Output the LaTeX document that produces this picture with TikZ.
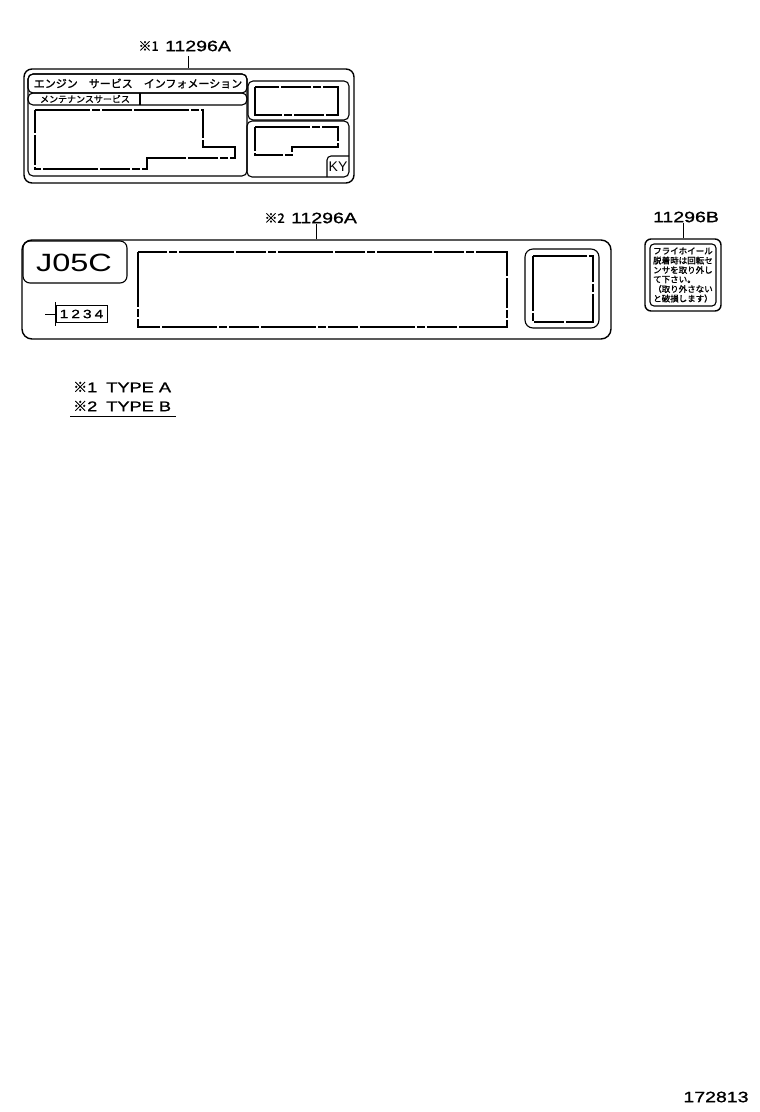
\documentclass[tikz,border=0pt]{standalone}
\usepackage{fontspec}
\setmainfont{Liberation Sans}
\newfontfamily\widefont[FakeStretch=1.3, FakeBold=1.2]{Liberation Sans}
\newfontfamily\thinfont[FakeStretch=1.3]{Liberation Sans}
\newfontfamily\jpfont[FakeBold=1.3]{Noto Sans CJK JP}
\usetikzlibrary{positioning}
\tikzset{
    every node/.style={inner sep=0pt},
    panel/.style={draw, line width=1.4pt, rounded corners=8pt},
    subpanel/.style={draw, line width=1.1pt, rounded corners=5pt},
    dashbox/.style={draw, line width=1.2pt, dash pattern=on 55pt off 2pt on 8pt off 2pt on 30pt off 2pt},
    partno/.style={font=\widefont\fontsize{15}{15}\selectfont},
    refmark/.style={font=\jpfont\fontsize{13}{13}\selectfont},
    leader/.style={line width=1pt},
    legendtext/.style={font=\widefont\fontsize{14}{14}\selectfont, anchor=west},
    notetext/.style={font=\jpfont\fontsize{8.5}{8.5}\selectfont, anchor=west},
}

\begin{document}
\begin{tikzpicture}[x=1pt, y=-1pt]
\fill[white] (0,0) rectangle (760,1112);
\useasboundingbox (0,0) rectangle (760,1112);

%=========================
% Type A label
%=========================
\node[panel, minimum width=330pt, minimum height=114pt] (typeA) at (189,126) {};
\node[partno] (noA) at (198,46) {11296A};
\node[refmark, left=6pt of noA] (markA) {※1};
\coordinate (legA) at (188,56);
\draw[leader] (legA) -- (legA |- typeA.north);

\draw[subpanel] (28,74) rectangle (247,176);
\draw[subpanel] (28,74) rectangle (247,93);
\draw[subpanel] (28,93) rectangle (247,105);
\draw[line width=1.1pt] (140,93) -- (140,105);
\node[font=\jpfont\fontsize{11}{11}\selectfont] (titleA) at (138,83.5) {エンジン　サービス　インフォメーション};
\node[font=\jpfont\fontsize{9}{9}\selectfont] (subA) at (85,99) {メンテナンスサービス};
\draw[dashbox] (35,110) -- (203,110) -- (203,147) -- (235,147) -- (235,158)
    -- (147,158) -- (147,169) -- (35,169) -- cycle;

\draw[subpanel] (248,81) rectangle (349,120);
\draw[dashbox] (255,87) rectangle (338,115);
\draw[subpanel] (247,121) rectangle (349,177);
\draw[dashbox] (255,127) -- (338,127) -- (338,147) -- (292,147) -- (292,155) -- (255,155) -- cycle;
\draw[line width=1.1pt, rounded corners=4pt] (349,156) -- (327,156) -- (327,177);
\node[font=\fontsize{14}{14}\selectfont] (ky) at (338,167) {KY};

%=========================
% Type B label
%=========================
\node[panel, rounded corners=10pt, minimum width=589pt, minimum height=99pt] (typeB) at (316.5,289.5) {};
\node[partno] (noB) at (324,218) {11296A};
\node[refmark, left=6pt of noB] (markB) {※2};
\draw[leader] (typeB.north) -- (typeB.north |- noB.south);

\draw[line width=1.1pt, rounded corners=7pt] (23,241) rectangle (127,283);
\node[font=\thinfont\fontsize{25}{25}\selectfont] (engine) at (74,263) {J05C};
\node[draw, line width=1pt, minimum width=51pt, minimum height=17pt,
      font=\widefont\fontsize{12}{12}\selectfont] (serial) at (81.5,314) {1\hspace{3pt}2\hspace{3pt}3\hspace{3pt}4};
\coordinate (tick) at (45,314);
\draw[line width=1pt] (tick) -- (serial.west);
\draw[line width=1pt] ([yshift=3pt]serial.north west) -- ([yshift=-3pt]serial.south west);

\draw[dashbox] (138,252) rectangle (507,327);
\draw[subpanel, rounded corners=8pt] (525,249) rectangle (599,328);
\draw[dashbox] (533,256) rectangle (593,322);

%=========================
% Flywheel label
%=========================
\node[panel, rounded corners=6pt, minimum width=76pt, minimum height=72pt] (typeC) at (683,275) {};
\node[subpanel, rounded corners=4pt, minimum width=66pt, minimum height=62pt] (typeC2) at (683,275) {};
\node[partno] (noC) at (686,217) {11296B};
\draw[leader] (typeC.north) -- (typeC.north |- noC.south);
\foreach \row/\text in {1/フライホイール, 2/脱着時は回転セ, 3/ンサを取り外し,
                        4/て下さい。, 5/（取り外さない, 6/と破損します）}{
  \node[notetext] (note-\row) at (653,241.5+9.5*\row) {\text};
}

%=========================
% Legend
%=========================
\foreach \row/\type in {1/A, 2/B}{
  \node[legendtext] (legend-\row) at (73,368+19*\row) {{\jpfont ※}\row\hspace{9pt}TYPE \type};
}
\draw[line width=1pt] ([xshift=-3pt,yshift=-5pt]legend-2.south west) -- ([xshift=5pt,yshift=-5pt]legend-2.south east);

\node[partno] (drawno) at (716,1097) {172813};

\end{tikzpicture}
\end{document}
